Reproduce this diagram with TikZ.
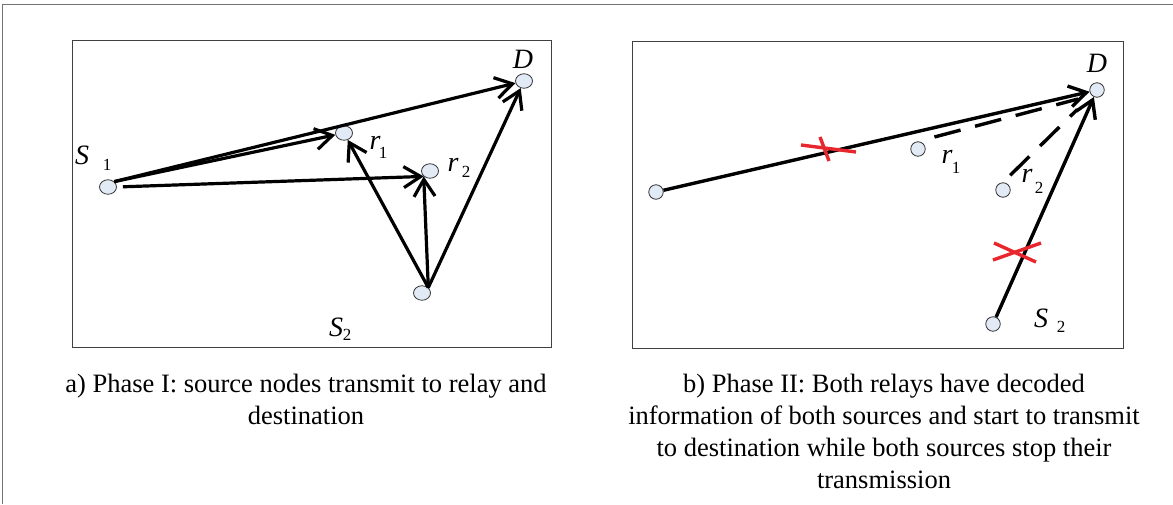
\documentclass[tikz,border=0pt]{standalone}
\usepackage{fontspec}
\setmainfont{Liberation Serif}
\usetikzlibrary{arrows.meta,shapes.geometric}
\definecolor{nodefill}{HTML}{E2EAF6}
\definecolor{nodedraw}{HTML}{333333}
\definecolor{xred}{HTML}{E8262D}
\begin{document}
\begin{tikzpicture}[x=1pt,y=-1pt,
  dev/.style={ellipse,draw=nodedraw,fill=nodefill,line width=0.8pt,minimum width=17pt,minimum height=14.5pt,inner sep=0pt},
  devs/.style={dev,minimum width=14.5pt,minimum height=14.5pt},
  arr/.style={line width=3.2pt,-{Straight Barb[length=17pt,width=21pt]}},
  arrb/.style={line width=3.4pt,-{Straight Barb[length=17pt,width=21pt]}},
  dlink/.style={line width=3.4pt,dash pattern=on 27pt off 15pt},
  cross/.style={draw=xred,line width=3.4pt},
  lab/.style={inner sep=0pt,font=\fontsize{28}{28}\selectfont\itshape},
  sub/.style={inner sep=0pt,font=\fontsize{17}{17}\selectfont},
  captext/.style={inner sep=0pt,anchor=base,font=\fontsize{26.5}{32}\selectfont},
  panel/.style={draw=black!75,line width=1pt}]
\useasboundingbox (0,0) rectangle (1173,504);
% outer frame
\draw[draw=black!55,line width=1.5pt] (2.5,504) -- (2.5,4.5) -- (1173,4.5);
% panels
\draw[panel] (72,40) rectangle (551,347);
\draw[panel] (632,41) rectangle (1123,348);

% ---------- panel a ----------
\node[dev] (s1a) at (108,187) {};
\node[dev] (r1a) at (344,133) {};
\node[dev] (r2a) at (430,171) {};
\node[dev] (da)  at (524,81) {};
\node[dev] (s2a) at (422,293) {};

\node[lab] (ls1a) at (82,155) {S};
\node[sub] (ls1asub) at (107,165) {1};
\node[lab] (lr1a) at (375,143) {r};
\node[sub] (lr1asub) at (383,153) {1};
\node[lab] (lr2a) at (453,165) {r};
\node[sub] (lr2asub) at (466,172) {2};
\node[lab] (lda) at (523,59) {D};
\node[lab] (ls2a) at (336,327) {S};
\node[sub] (ls2asub) at (347,335) {2};

\draw[arr] (s1a.north east) -- (da);
\draw[arr] (s1a.north east) -- (r1a);
\draw[arr,shorten <=6pt] (s1a.east) -- (r2a.south west);
\draw[arr] (s2a.north east) -- (r1a);
\draw[arr] (s2a.north east) -- (r2a.south west);
\draw[arr] (s2a.north east) -- (da);

% ---------- panel b ----------
\node[devs] (s1b) at (656,192) {};
\node[devs] (r1b) at (918,149) {};
\node[devs] (r2b) at (1003,190) {};
\node[devs] (db)  at (1097,90) {};
\node[devs] (s2b) at (993,324) {};

\node[lab] (lr1b) at (947,157) {r};
\node[sub] (lr1bsub) at (956,168) {1};
\node[lab] (lr2b) at (1027,176) {r};
\node[sub] (lr2bsub) at (1039,188) {2};
\node[lab] (ldb) at (1097,63) {D};
\node[lab] (ls2b) at (1041,318) {S};
\node[sub] (ls2bsub) at (1061,327) {2};

\draw[arrb] (s1b) -- (db);
\draw[arrb] (s2b) -- (db);
\draw[dlink,shorten <=17pt,shorten >=14pt] (r1b.north) -- (db.south west);
\draw[dlink,shorten <=10pt,shorten >=20pt] (r2b.north) -- (db.south west);

\draw[cross] (801,145) -- (856,152);
\draw[cross] (820,137) -- (829,161);
\draw[cross] (993,260) -- (1041,243);
\draw[cross] (994,243) -- (1036,262);

% ---------- captions ----------
\node[captext] (capA1) at (306,392) {a) Phase I: source nodes transmit to relay and};
\node[captext] (capA2) at (306,424) {destination};
\node[captext] (capB1) at (884,392) {b) Phase II: Both relays have decoded};
\node[captext] (capB2) at (884,424) {information of both sources and start to transmit};
\node[captext] (capB3) at (884,456) {to destination while both sources stop their};
\node[captext] (capB4) at (884,488) {transmission};
\end{tikzpicture}
\end{document}
